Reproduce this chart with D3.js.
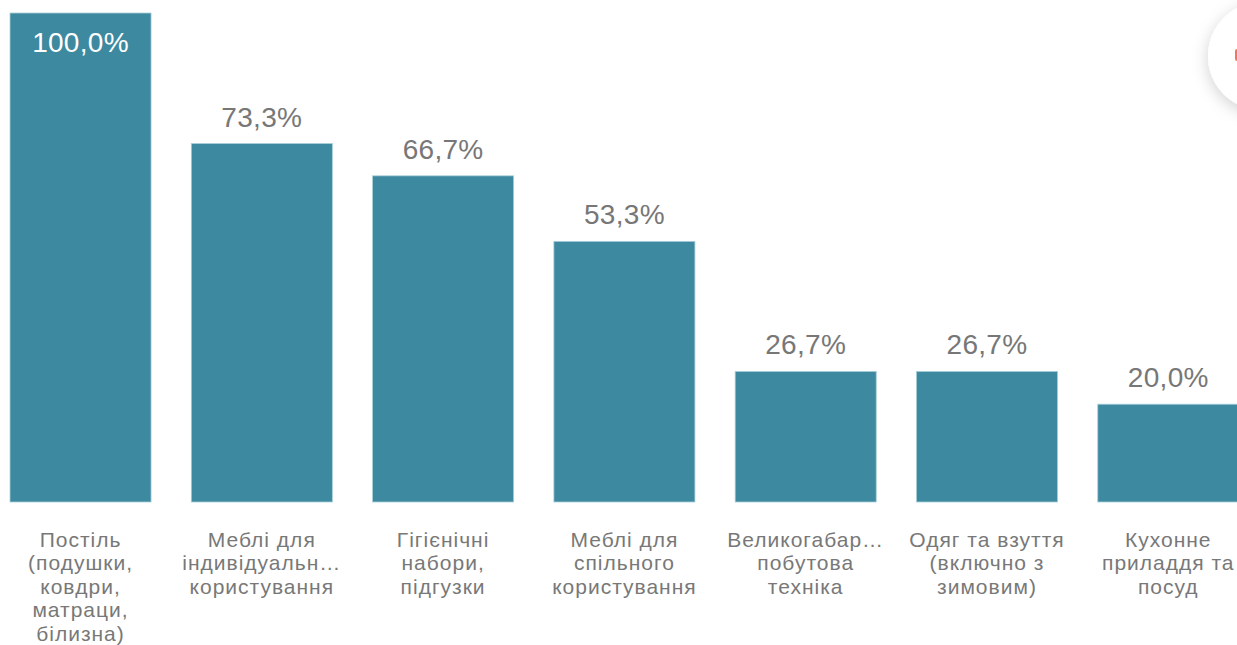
<!DOCTYPE html>
<html>
<head>
<meta charset="utf-8">
<script src="https://cdn.jsdelivr.net/npm/d3@7"></script>
<style>
  html, body { margin: 0; padding: 0; background: #fff; overflow: hidden; }
  svg { display: block; }
</style>
</head>
<body>
<svg id="chart" width="1237" height="645"></svg>
<script>
const categories = [
  "Постіль (подушки, ковдри, матраци, білизна)",
  "Меблі для індивідуального користування",
  "Гігієнічні набори, підгузки",
  "Меблі для спільного користування",
  "Великогабаритна побутова техніка",
  "Одяг та взуття (включно з зимовим)",
  "Кухонне приладдя та посуд"
];
const values = [100.0, 73.3, 66.7, 53.3, 26.7, 26.7, 20.0];
const categoryLines = [
  ["Постіль", "(подушки,", "ковдри,", "матраци,", "білизна)"],
  ["Меблі для", "індивідуальн…", "користування"],
  ["Гігієнічні", "набори,", "підгузки"],
  ["Меблі для", "спільного", "користування"],
  ["Великогабар…", "побутова", "техніка"],
  ["Одяг та взуття", "(включно з", "зимовим)"],
  ["Кухонне", "приладдя та", "посуд"]
];

const W = 1237, H = 645;
const svg = d3.select("#chart");
const font = "'Liberation Sans', Arial, sans-serif";

const x = d3.scaleBand().domain(categories).range([10, 1238.8]).paddingInner(0.222).paddingOuter(0);
const y = d3.scaleLinear().domain([0, 100]).range([502, 13]);
const fmt = v => d3.format(".1f")(v).replace(".", ",") + "%";

const g = svg.append("g");

g.selectAll("rect.bar").data(values).enter().append("rect")
  .attr("class", "bar")
  .attr("x", (d, i) => x(categories[i]))
  .attr("y", d => y(d))
  .attr("width", x.bandwidth())
  .attr("height", d => y(0) - y(d))
  .attr("fill", "#3d89a0")
  .attr("stroke", "#a9cfda")
  .attr("stroke-width", 0.8);

g.selectAll("text.val").data(values).enter().append("text")
  .attr("class", "val")
  .attr("x", (d, i) => x(categories[i]) + x.bandwidth() / 2)
  .attr("y", d => d >= 95 ? y(d) + 39 : y(d) - 17)
  .attr("text-anchor", "middle")
  .attr("font-family", font)
  .attr("font-size", 28)
  .attr("letter-spacing", 0.3)
  .attr("fill", d => d >= 95 ? "#ffffff" : "#777777")
  .text(d => fmt(d));

const lab = g.selectAll("text.cat").data(categoryLines).enter().append("text")
  .attr("class", "cat")
  .attr("text-anchor", "middle")
  .attr("font-family", font)
  .attr("font-size", 21)
  .attr("letter-spacing", 1)
  .attr("fill", "#787878");
lab.each(function(lines, i) {
  const cx = x(categories[i]) + x.bandwidth() / 2;
  d3.select(this).selectAll("tspan").data(lines).enter().append("tspan")
    .attr("x", cx)
    .attr("y", (d, j) => y(0) + 45 + j * 23.4)
    .text(d => d);
});

// floating button at top right (partially visible)
const defs = svg.append("defs");
const f = defs.append("filter").attr("id", "sh").attr("x", "-50%").attr("y", "-50%").attr("width", "200%").attr("height", "200%");
f.append("feDropShadow").attr("dx", 0).attr("dy", 4).attr("stdDeviation", 8).attr("flood-color", "#000").attr("flood-opacity", 0.18);
svg.append("circle").attr("cx", 1262).attr("cy", 56).attr("r", 54).attr("fill", "#fff").attr("filter", "url(#sh)");
svg.append("rect").attr("x", 1235).attr("y", 49).attr("width", 4).attr("height", 12).attr("rx", 2).attr("fill", "#f2765a");
</script>
</body>
</html>
